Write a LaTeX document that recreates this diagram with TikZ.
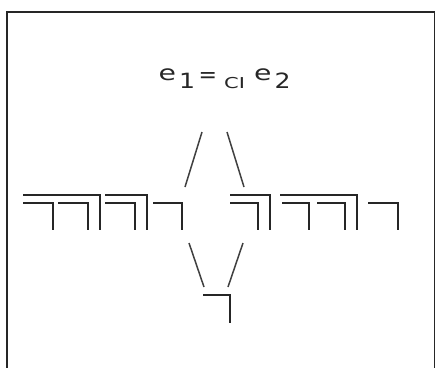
\documentclass[tikz,border=0pt]{standalone}
\usepackage{fontspec}
\setmainfont{DejaVu Sans}
\definecolor{ink}{HTML}{262626}
\definecolor{slash}{HTML}{404040}
\tikzset{
  frame/.style={draw=ink, line width=1.8pt},
  brk/.style={draw=ink, line width=1.9pt, line cap=butt, line join=miter},
  sl/.style={draw=slash, line width=1.5pt},
  glyph/.style={inner sep=0pt, anchor=base west, text=ink, font=\fontsize{21}{21}\selectfont},
  eqs/.style={inner sep=0pt, anchor=base west, text=ink, font=\fontsize{22}{22}\selectfont},
  small/.style={inner sep=0pt, anchor=base west, text=ink, font=\fontsize{15}{15}\selectfont}
}
\newcommand\myhook[3]{\draw[brk] (#1,#3) -- (#2,#3) -- (#2,230);}
\begin{document}
\begin{tikzpicture}[x=1pt,y=-1pt]
\useasboundingbox[fill=white] (0,0) rectangle (435,367);
% frame (bottom edge is outside the picture)
\draw[frame] (7,370) -- (7,12) -- (434.5,12) -- (434.5,370);
% formula
\node[glyph] (e1) at (158.5,80.5) {\scalebox{1.35}[1]{e}};
\node[glyph] (s1) at (179,88) {\scalebox{1.2}[1]{1}};
\node[eqs]   (eq) at (198.5,82.5) {=};
\node[small] (ci) at (224,88) {\scalebox{1.4}[1]{CI}};
\node[glyph] (e2) at (254,80.5) {\scalebox{1.35}[1]{e}};
\node[glyph] (s2) at (274.5,88) {\scalebox{1.2}[1]{2}};
% left group
\myhook{23}{100}{195}
\myhook{23}{53}{203}
\myhook{58}{88}{203}
\myhook{105}{147}{195}
\myhook{105}{135}{203}
\myhook{153}{182}{203}
% right group
\myhook{230}{270}{195}
\myhook{230}{258}{203}
\myhook{280}{357}{195}
\myhook{282}{309}{203}
\myhook{317}{345}{203}
\myhook{368}{398}{203}
% bottom
\draw[brk] (203,295) -- (230,295) -- (230,323);
% slashes
\draw[sl] (202,132) -- (185,187);
\draw[sl] (227,132) -- (244,187);
\draw[sl] (189,243) -- (204,287);
\draw[sl] (243,243) -- (228,287);
\end{tikzpicture}
\end{document}
